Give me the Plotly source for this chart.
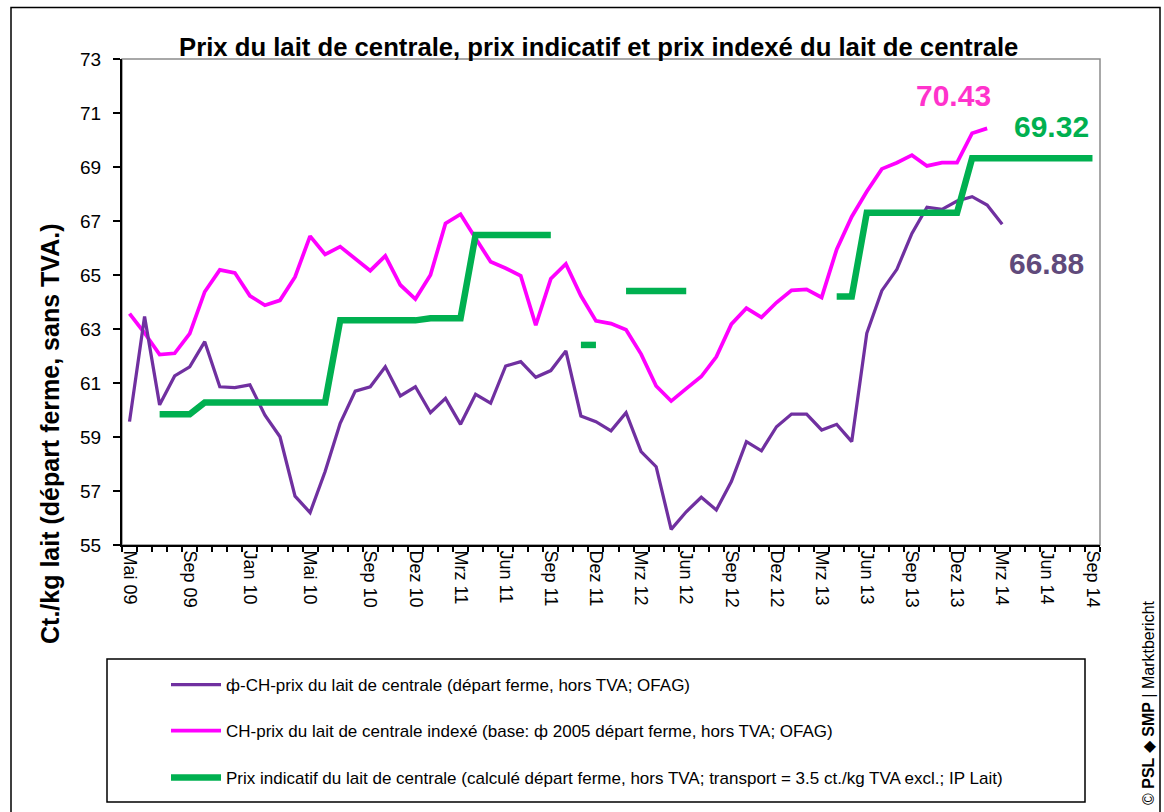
import plotly.graph_objects as go
import pandas as pd

# ---------------- data ----------------
months = [d.strftime("%Y-%m") for d in pd.date_range("2009-05-01", periods=65, freq="MS")]

tick_months = ["2009-05", "2009-09", "2010-01", "2010-05", "2010-09", "2010-12", "2011-03",
               "2011-06", "2011-09", "2011-12", "2012-03", "2012-06", "2012-09", "2012-12",
               "2013-03", "2013-06", "2013-09", "2013-12", "2014-03", "2014-06", "2014-09"]
tick_labels = ["Mai 09", "Sep 09", "Jan 10", "Mai 10", "Sep 10", "Dez 10", "Mrz 11",
               "Jun 11", "Sep 11", "Dez 11", "Mrz 12", "Jun 12", "Sep 12", "Dez 12",
               "Mrz 13", "Jun 13", "Sep 13", "Dez 13", "Mrz 14", "Jun 14", "Sep 14"]

prix_moyen = [59.57, 63.46, 60.19, 61.26, 61.60, 62.53, 60.86, 60.83, 60.93, 59.81,
              59.01, 56.81, 56.20, 57.72, 59.51, 60.70, 60.86, 61.60, 60.52, 60.86,
              59.90, 60.43, 59.47, 60.58, 60.25, 61.63, 61.79, 61.21, 61.46, 62.19,
              59.78, 59.57, 59.23, 59.90, 58.46, 57.90, 55.58, 56.23, 56.77, 56.30,
              57.35, 58.83, 58.49, 59.38, 59.85, 59.85, 59.26, 59.47, 58.83, 62.84,
              64.42, 65.21, 66.54, 67.51, 67.43, 67.74, 67.90, 67.59, 66.88,
              None, None, None, None, None, None]

prix_indexe = [63.57, 62.85, 62.05, 62.10, 62.83, 64.38, 65.19, 65.08, 64.23, 63.88,
               64.06, 64.93, 66.44, 65.76, 66.05, 65.61, 65.16, 65.71, 64.63, 64.11,
               65.00, 66.91, 67.25, 66.36, 65.49, 65.25, 64.97, 63.14, 64.86, 65.41,
               64.23, 63.30, 63.20, 62.97, 62.07, 60.89, 60.33, 60.79, 61.24, 61.97,
               63.18, 63.77, 63.43, 63.98, 64.43, 64.47, 64.17, 65.95, 67.16, 68.09,
               68.93, 69.16, 69.44, 69.04, 69.16, 69.16, 70.25, 70.43,
               None, None, None, None, None, None, None]

prix_indicatif = [None, None, 59.84, 59.84, 59.84, 60.28, 60.28, 60.28, 60.28, 60.28,
                  60.28, 60.28, 60.28, 60.28, 63.32, 63.32, 63.32, 63.32, 63.32, 63.32,
                  63.40, 63.40, 63.40, 66.48, 66.48, 66.48, 66.48, 66.48, 66.48, None,
                  62.41, 62.41, None, 64.41, 64.41, 64.41, 64.41, 64.41, None, None,
                  None, None, None, None, None, None, None, 64.20, 64.20, 67.31,
                  67.31, 67.31, 67.31, 67.31, 67.31, 67.31, 69.32, 69.32, 69.32, 69.32,
                  69.32, 69.32, 69.32, 69.32, 69.32]

names = ["ф-CH-prix du lait de centrale (départ ferme, hors TVA; OFAG)",
         "CH-prix du lait de centrale indexé (base: ф 2005 départ ferme, hors TVA; OFAG)",
         "Prix indicatif du lait de centrale (calculé départ ferme, hors TVA; transport = 3.5 ct./kg TVA excl.; IP Lait)"]

C_PURPLE = "#7030A0"
C_PINK = "#FF00FF"
C_GREEN = "#00B050"

FONT = "Liberation Sans, Arial, sans-serif"

x = list(range(len(months)))
tickvals = [months.index(m) for m in tick_months]

# ---------------- layout geometry ----------------
W, H = 1164, 812
ML, MT = 122, 59
PW, PH = 978, 486
MR = W - ML - PW
MB = H - MT - PH


def px(xp):
    """screen x -> paper x"""
    return (xp - ML) / PW


def py(yp):
    """screen y -> paper y"""
    return (MT + PH - yp) / PH


fig = go.Figure()

fig.add_trace(go.Scatter(x=x, y=prix_indexe, mode="lines", name=names[1],
                         line=dict(color=C_PINK, width=3.75), legend="legend2",
                         connectgaps=False))
fig.add_trace(go.Scatter(x=x, y=prix_moyen, mode="lines", name=names[0],
                         line=dict(color=C_PURPLE, width=3.25), legend="legend",
                         connectgaps=False))
fig.add_trace(go.Scatter(x=x, y=prix_indicatif, mode="lines", name=names[2],
                         line=dict(color=C_GREEN, width=6.5), legend="legend3",
                         connectgaps=False))


def last_idx(series):
    return max(i for i, v in enumerate(series) if v is not None)


i_p = last_idx(prix_indexe)
i_m = last_idx(prix_moyen)
i_g = last_idx(prix_indicatif)

annotations = [
    dict(x=i_p, y=prix_indexe[i_p], xref="x", yref="y", text=f"<b>{prix_indexe[i_p]:.2f}</b>",
         showarrow=False, xshift=-34, yshift=33, xanchor="center", yanchor="middle",
         font=dict(size=30, color="#FF33CC", family=FONT)),
    dict(x=i_g, y=prix_indicatif[i_g], xref="x", yref="y", text=f"<b>{prix_indicatif[i_g]:.2f}</b>",
         showarrow=False, xshift=-41, yshift=32, xanchor="center", yanchor="middle",
         font=dict(size=30, color=C_GREEN, family=FONT)),
    dict(x=i_m, y=prix_moyen[i_m], xref="x", yref="y", text=f"<b>{prix_moyen[i_m]:.2f}</b>",
         showarrow=False, xshift=44, yshift=-39, xanchor="center", yanchor="middle",
         font=dict(size=30, color="#604A7B", family=FONT)),
    # y-axis title
    dict(x=px(50), y=py(434), xref="paper", yref="paper",
         text="<b>Ct./kg lait (départ ferme, sans TVA.)</b>",
         textangle=-90, showarrow=False, xanchor="center", yanchor="middle",
         font=dict(size=25, color="black", family=FONT)),
    # title
    dict(x=px(598), y=py(47), xref="paper", yref="paper",
         text="<b>Prix du lait de centrale, prix indicatif et prix indexé du lait de centrale</b>",
         showarrow=False, xanchor="center", yanchor="middle",
         font=dict(size=25.7, color="black", family=FONT)),
    # copyright
    dict(x=px(1148), y=py(703), xref="paper", yref="paper",
         text="© <b>PSL</b> ◆ <b>SMP</b> | Marktbericht",
         textangle=-90, showarrow=False, xanchor="center", yanchor="middle",
         font=dict(size=16, color="black", family=FONT)),
]

shapes = [
    # plot area border (grey)
    dict(type="rect", xref="paper", yref="paper", x0=0, x1=1, y0=0, y1=1,
         line=dict(color="#8C8C8C", width=1.5), layer="below"),
    # outer chart border
    dict(type="rect", xref="paper", yref="paper", x0=px(11), x1=px(1160), y0=py(7.5), y1=py(840),
         line=dict(color="black", width=1.5), layer="below"),
    # legend box
    dict(type="rect", xref="paper", yref="paper", x0=px(107), x1=px(1085), y0=py(659), y1=py(802),
         line=dict(color="black", width=1.5), layer="below"),
]

legend_common = dict(font=dict(size=17, color="black", family=FONT), bgcolor="rgba(0,0,0,0)",
                     borderwidth=0, xanchor="left", yanchor="middle", itemwidth=50,
                     x=px(166))

fig.update_layout(
    width=W, height=H,
    margin=dict(l=ML, r=MR, t=MT, b=MB),
    paper_bgcolor="white", plot_bgcolor="white",
    font=dict(family=FONT, color="black"),
    showlegend=True,
    legend=dict(**legend_common, y=py(685)),
    legend2=dict(**legend_common, y=py(731)),
    legend3=dict(**legend_common, y=py(778)),
    annotations=annotations,
    shapes=shapes,
    xaxis=dict(
        range=[-0.5, len(months) - 0.5],
        tickmode="array", tickvals=tickvals, ticktext=tick_labels,
        tickangle=90, ticks="", showgrid=False, zeroline=False,
        showline=True, linecolor="black", linewidth=2,
        tickfont=dict(size=18, color="black", family=FONT),
        minor=dict(ticks="outside", ticklen=5, tickwidth=1.5, tickcolor="black",
                   tickmode="linear", tick0=-0.5, dtick=1, showgrid=False),
    ),
    yaxis=dict(
        range=[55, 73], tickmode="linear", tick0=55, dtick=2,
        ticks="outside", ticklen=7, tickwidth=1.5, tickcolor="black",
        showgrid=False, zeroline=False,
        showline=True, linecolor="black", linewidth=2,
        tickfont=dict(size=19, color="black", family=FONT),
        ticklabelstandoff=8,
    ),
)

fig.write_html(
    "out.html",
    config={"displayModeBar": False},
    post_script="document.body.style.margin='0';document.body.style.overflow='hidden';",
)
